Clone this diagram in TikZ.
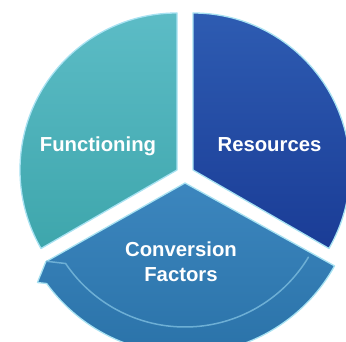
\documentclass[tikz,border=0pt]{standalone}
\usepackage{fontspec}
\setmainfont{Liberation Sans}
\usetikzlibrary{calc}
\definecolor{tealtop}{RGB}{92,188,198}
\definecolor{tealbot}{RGB}{62,166,172}
\definecolor{bluetop}{RGB}{46,92,178}
\definecolor{bluebot}{RGB}{26,60,150}
\definecolor{midtop}{RGB}{60,134,190}
\definecolor{midbot}{RGB}{42,114,168}
\definecolor{rim}{RGB}{168,226,242}
\tikzset{
  piece/.style={draw=rim, line width=1.3pt, line join=round},
  lbl/.style={text=white, font=\bfseries\fontsize{20.3}{25}\selectfont, inner sep=0pt},
}
\begin{document}
\begin{tikzpicture}[x=1pt,y=1pt]
\useasboundingbox (0,0) rectangle (346,342);
\clip (0,0) rectangle (346,342);
\coordinate (cl) at (177,172);
\coordinate (cr) at (193,172);
\coordinate (cb) at (185,159);
% left piece
\path[piece, top color=tealtop, bottom color=tealbot]
  (cl) -- ([shift={(90:157)}]cl) arc[start angle=90, end angle=210, radius=157] -- cycle;
% right piece
\path[piece, top color=bluetop, bottom color=bluebot]
  (cr) -- ([shift={(90:157)}]cr) arc[start angle=90, end angle=-30, radius=157] -- cycle;
% bottom piece (curved arrow)
\path[piece, top color=midtop, bottom color=midbot]
  (cb) -- ([shift={(209.5:160)}]cb) -- ([shift={(214:178)}]cb)
  -- ([shift={(216:171)}]cb) arc[start angle=216, end angle=331, radius=171] -- cycle;
\coordinate (ia) at ([shift={(214:144)}]cb);
\draw[rim!45!midtop, line width=1.5pt, line cap=round]
  ([shift={(209.5:159)}]cb) -- (ia) arc[start angle=214, end angle=329, radius=144];
% labels
\node[lbl, anchor=base] (fun) at (98,190) {Functioning};
\node[lbl, anchor=base] (res) at (269.5,190) {Resources};
\node[lbl, anchor=base] (con) at (181,85) {Conversion};
\node[lbl, anchor=base] (fac) at (181,60) {Factors};
\end{tikzpicture}
\end{document}
